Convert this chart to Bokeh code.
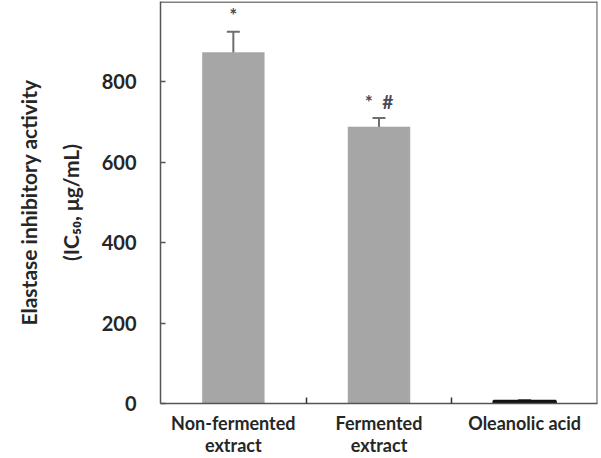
from bokeh.core.properties import value
from bokeh.embed import file_html
from bokeh.models import ColumnDataSource, FixedTicker, Range1d, Span, TeeHead, Whisker
from bokeh.plotting import figure
from bokeh.resources import INLINE

# Elastase inhibition (IC50) for the three samples
categories = ["Non-fermented\nextract", "Fermented\nextract", "Oleanolic acid"]
ic50 = [873, 688, 6]
sd = [52, 22, 3]
marks = ["*", "*\u00a0\u00a0#", ""]
y_ticks = [0, 200, 400, 600, 800]

FONT = "Lato"
TEXT = "#262626"
FRAME = "#555555"

xs = [i + 0.5 for i in range(len(categories))]

p = figure(
    width=601, height=458,
    x_range=Range1d(0, 3), y_range=Range1d(0, 1000),
    output_backend="svg", toolbar_location=None,
    min_border_left=160, min_border_right=4,
    min_border_top=1, min_border_bottom=55,
)
p.background_fill_color = "white"
p.border_fill_color = "white"
p.grid.visible = False
p.outline_line_color = None

# closing lines of the plot box (top and right)
p.add_layout(Span(location=998.5, dimension="width", line_color=FRAME, line_width=1.5))
p.add_layout(Span(location=2.998, dimension="height", line_color=FRAME, line_width=1.5))

src = ColumnDataSource(dict(
    x=xs,
    top=ic50,
    upper=[v + e for v, e in zip(ic50, sd)],
    lower=[v - e for v, e in zip(ic50, sd)],
    mark=marks,
    mark_y=[v + e + 42 for v, e in zip(ic50, sd)],
    edge=["#a6a6a6", "#a6a6a6", "#111111"],
    edge_w=[0.5, 0.5, 2.5],
))

p.vbar(x="x", top="top", width=0.425, fill_color="#a6a6a6",
       line_color="edge", line_width="edge_w", source=src)

p.add_layout(Whisker(
    base="x", upper="upper", lower="lower", source=src,
    line_color="#6e6e6e", line_width=2,
    upper_head=TeeHead(size=13, line_color="#6e6e6e", line_width=2),
    lower_head=TeeHead(size=13, line_color="#6e6e6e", line_width=2),
))

p.text(x="x", y="mark_y", text="mark", source=src,
       text_font=value(FONT), text_font_size="19px", text_font_style="bold",
       text_align="center", text_baseline="middle", text_color="#4a4a5a")

# y axis: inward ticks, bold labels, two-line title
yax = p.yaxis[0]
yax.ticker = FixedTicker(ticks=y_ticks)
yax.major_tick_in = 5
yax.major_tick_out = 0
yax.minor_tick_in = 0
yax.minor_tick_out = 0
yax.axis_line_color = FRAME
yax.axis_line_width = 1.5
yax.major_tick_line_color = FRAME
yax.major_tick_line_width = 1.5
yax.major_label_standoff = 24
yax.major_label_text_font = FONT
yax.major_label_text_font_size = "20px"
yax.major_label_text_font_style = "bold"
yax.major_label_text_color = TEXT
yax.axis_label = "Elastase inhibitory activity\n(IC\u2085\u2080, \u03bcg/mL)"
yax.axis_label_text_font = FONT
yax.axis_label_text_font_size = "21px"
yax.axis_label_text_font_style = "bold"
yax.axis_label_text_color = TEXT
yax.axis_label_text_line_height = 1.65
yax.axis_label_standoff = 16
yax.axis_label_text_align = "center"

# x axis: boundary ticks between categories, names centred under bars
xax = p.xaxis[0]
xax.ticker = FixedTicker(ticks=xs, minor_ticks=[1, 2])
xax.major_tick_in = 0
xax.major_tick_out = 0
xax.minor_tick_in = 6
xax.minor_tick_out = 0
xax.minor_tick_line_color = "#333333"
xax.minor_tick_line_width = 1.5
xax.axis_line_color = FRAME
xax.axis_line_width = 1.5
xax.major_label_overrides = {x: name for x, name in zip(xs, categories)}
xax.major_label_standoff = 8
xax.major_label_text_font = FONT
xax.major_label_text_font_size = "18px"
xax.major_label_text_font_style = "bold"
xax.major_label_text_color = TEXT
xax.major_label_text_line_height = 1.0

open("out.html", "w").write(file_html(p, INLINE))
